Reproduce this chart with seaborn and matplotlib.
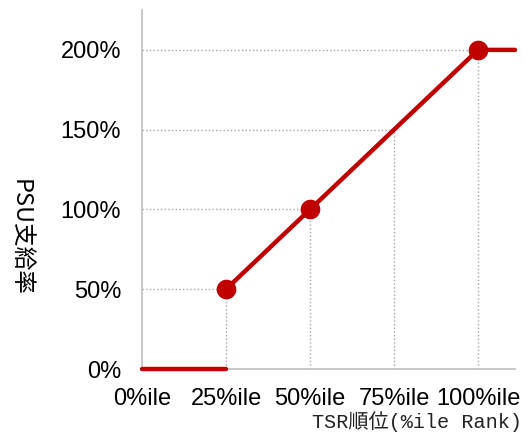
import matplotlib
matplotlib.use("Agg")
import matplotlib.pyplot as plt
import numpy as np
import pandas as pd
import seaborn as sns

# payout curve (TSR rank percentile -> PSU payout %)
below_x = [0, 25]
below_y = [0, 0]
curve_x = [25, 50, 75, 100, 111]
curve_y = [50, 100, 150, 200, 200]
marker_x = [25, 50, 100]
marker_y = [50, 100, 200]

# dotted guide lines
guide_x = [25, 50, 75, 100]
guide_y = [50, 100, 150, 200]

xticks = [0, 25, 50, 75, 100]
xtick_labels = ["0%ile", "25%ile", "50%ile", "75%ile", "100%ile"]
yticks = [0, 50, 100, 150, 200]
ytick_labels = ["0%", "50%", "100%", "150%", "200%"]

red = "#C00000"
gray = "#BFBFBF"

sns.set_style("white")
plt.rcParams['font.family'] = ['Liberation Sans', 'Noto Sans CJK JP']

fig = plt.figure(figsize=(5.25, 4.34), dpi=100)
ax = fig.add_axes([142/525, 1-369/434, 373/525, 359/434])

# guides
ax.hlines(guide_y, 0, guide_x, colors="#A6A6A6", linestyles=":", linewidth=1, zorder=1)
ax.vlines(guide_x, 0, guide_y, colors="#A6A6A6", linestyles=":", linewidth=1, zorder=1)

df_below = pd.DataFrame({"x": below_x, "y": below_y})
df_curve = pd.DataFrame({"x": curve_x, "y": curve_y})
df_mark = pd.DataFrame({"x": marker_x, "y": marker_y})

sns.lineplot(data=df_below, x="x", y="y", color=red, linewidth=3.2, ax=ax, zorder=3, clip_on=False)
sns.lineplot(data=df_curve, x="x", y="y", color=red, linewidth=3.2, ax=ax, zorder=3, clip_on=False)
sns.scatterplot(data=df_mark, x="x", y="y", color=red, s=200, edgecolor=red, linewidth=0, ax=ax, zorder=4, clip_on=False)

ax.set_xlim(0, 111)
ax.set_ylim(0, 225)

ax.set_xticks(xticks)
ax.set_xticklabels(xtick_labels, fontsize=17, color="black")
ax.set_yticks(yticks)
ax.set_yticklabels(ytick_labels, fontsize=17, color="black")
ax.tick_params(axis="both", direction="in", length=5, color=gray, width=1)
ax.tick_params(axis="y", pad=15)
ax.tick_params(axis="x", pad=14)

for s in ["top", "right"]:
    ax.spines[s].set_visible(False)
for s in ["left", "bottom"]:
    ax.spines[s].set_color(gray)
    ax.spines[s].set_linewidth(1.2)

ax.set_xlabel("TSR順位(%ile Rank)", fontsize=14.5, family=['Liberation Mono', 'Noto Sans CJK JP'],
              ha="right", va="center", color="#222222")
ax.xaxis.set_label_coords(380/373, -53/359)
ax.set_ylabel("PSU支給率", fontsize=17, rotation=270, va="center", ha="center",
              family=['Noto Sans CJK JP', 'DejaVu Sans'], color="black")
ax.yaxis.set_label_coords(-122/373, 132/359)

fig.savefig("out.png", dpi=100)
